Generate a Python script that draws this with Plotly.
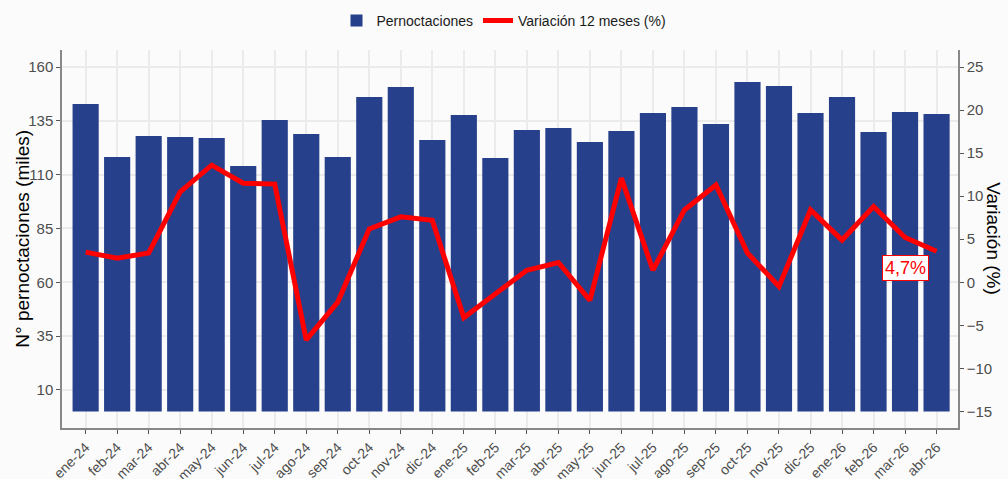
import plotly.graph_objects as go

meses = ["ene-24", "feb-24", "mar-24", "abr-24", "may-24", "jun-24", "jul-24", "ago-24",
         "sep-24", "oct-24", "nov-24", "dic-24", "ene-25", "feb-25", "mar-25", "abr-25",
         "may-25", "jun-25", "jul-25", "ago-25", "sep-25", "oct-25", "nov-25", "dic-25",
         "ene-26", "feb-26", "mar-26", "abr-26"]
pernoctaciones = [142.8, 118.2, 128.0, 127.5, 127.0, 114.0, 135.4, 128.9,
                  118.2, 146.1, 150.7, 126.1, 137.7, 117.7, 130.7, 131.7,
                  125.2, 130.3, 138.6, 141.4, 133.5, 153.0, 151.2, 138.6,
                  146.1, 129.8, 139.1, 138.2]
variacion = [3.5, 2.8, 3.4, 10.5, 13.6, 11.5, 11.4, -6.7,
             -2.3, 6.2, 7.6, 7.2, -4.1, -1.4, 1.4, 2.3,
             -2.1, 12.1, 1.4, 8.4, 11.3, 3.4, -0.5, 8.4,
             4.9, 8.8, 5.2, 3.6]
etiqueta_texto = "4,7%"
etiqueta_mes = "mar-26"
etiqueta_y = 1.7

left_ticks = [10, 35, 60, 85, 110, 135, 160]
right_ticks = [-15, -10, -5, 0, 5, 10, 15, 20, 25]

FONT = "Liberation Sans, Arial, sans-serif"
BLUE = "#27408B"
RED = "#FF0000"
BG = "#FBFBFB"

fig = go.Figure()
fig.add_trace(go.Bar(x=meses, y=pernoctaciones, name="Pernoctaciones",
                     marker=dict(color=BLUE, line=dict(width=0)), yaxis="y"))
fig.add_trace(go.Scatter(x=meses, y=variacion, name="Variación 12 meses (%)",
                         mode="lines", line=dict(color=RED, width=5), yaxis="y2"))

lmin, lmax = -7.7, 167.9
fig.update_layout(
    width=1008, height=479,
    margin=dict(l=62, r=50, t=50, b=51, autoexpand=False),
    paper_bgcolor=BG, plot_bgcolor=BG,
    font=dict(family=FONT, color="#4D4D4D", size=14),
    bargap=0.17,
    showlegend=True,
    legend=dict(orientation="h", x=0.5, xanchor="center", xref="container",
                y=0.99, yanchor="top", yref="container",
                font=dict(size=14, color="#1a1a1a"), bgcolor="rgba(0,0,0,0)"),
    xaxis=dict(range=[-0.75, 27.68], tickangle=-45, showgrid=True, gridcolor="#EBEBEB",
               gridwidth=1.5, ticks="outside", ticklen=4, tickcolor="#555555",
               showline=True, linecolor="#888888", linewidth=1.5,
               tickfont=dict(size=14, color="#4D4D4D"), zeroline=False),
    yaxis=dict(range=[lmin, lmax], tickvals=left_ticks, showgrid=True, gridcolor="#EBEBEB",
               gridwidth=1.5, ticks="outside", ticklen=4, tickcolor="#555555",
               showline=True, linecolor="#888888", linewidth=1.5, zeroline=False,
               tickfont=dict(size=15, color="#4D4D4D")),
    yaxis2=dict(range=[lmin / 4 - 15, lmax / 4 - 15], tickvals=right_ticks, overlaying="y",
                side="right", showgrid=False, ticks="outside", ticklen=4, tickcolor="#555555",
                showline=True, linecolor="#888888", linewidth=1.5, zeroline=False,
                tickfont=dict(size=15, color="#4D4D4D")),
)

fig.add_annotation(x=etiqueta_mes, y=etiqueta_y, yref="y2", xref="x", text=etiqueta_texto,
                   showarrow=False, font=dict(size=18, color=RED, family=FONT),
                   bgcolor="white", bordercolor=RED, borderwidth=1, borderpad=2)
fig.add_annotation(x=-0.045, y=0.5, xref="paper", yref="paper", xanchor="center", yanchor="middle",
                   text="N° pernoctaciones (miles)", textangle=-90, showarrow=False,
                   font=dict(size=19, color="black", family=FONT))
fig.add_annotation(x=1.04, y=0.5, xref="paper", yref="paper", xanchor="center", yanchor="middle",
                   text="Variación (%)", textangle=90, showarrow=False,
                   font=dict(size=19, color="black", family=FONT))

fig.write_html("out.html", config={"displayModeBar": False},
               post_script="document.body.style.margin='0';document.body.style.overflow='hidden';")
